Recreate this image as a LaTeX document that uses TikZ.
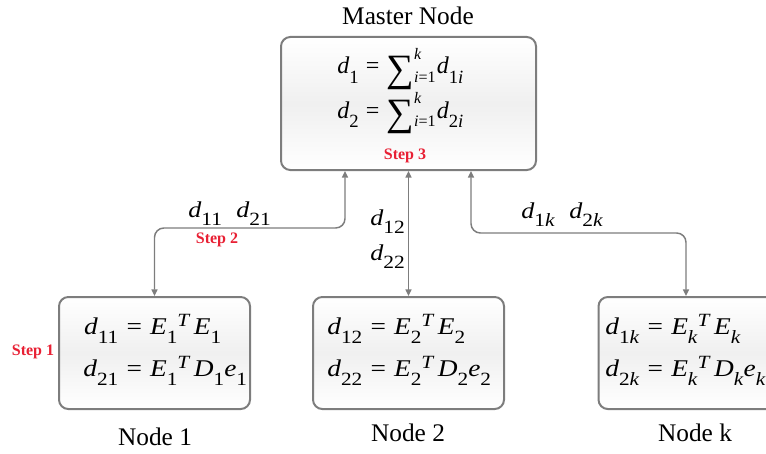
\documentclass[tikz,border=0pt]{standalone}
\usepackage{graphicx}
\usepackage{fontspec}
\setmainfont{Liberation Serif}
\usetikzlibrary{arrows.meta}
\definecolor{stepred}{RGB}{232,32,52}
\definecolor{edgegray}{RGB}{125,125,125}

% formula pieces set with the text font (italic letters, large scripts)
\newcommand\vv[1]{\textit{#1}}
\newcommand\lo[1]{\smash{\raisebox{-0.38em}{\fontsize{14}{14}\selectfont #1}}}
\newcommand\hi[1]{\smash{\raisebox{0.32em}{\fontsize{14}{14}\selectfont\itshape #1}}}
\newcommand\eqs{\hspace{0.3em}=\hspace{0.3em}}
\newcommand\sumlim[2]{\smash{\raisebox{-0.3em}{\fontsize{29}{29}\selectfont ∑}}%
  \rlap{\smash{\raisebox{0.62em}{\fontsize{12}{12}\selectfont\itshape #1}}}%
  \smash{\raisebox{-0.35em}{\fontsize{12}{12}\selectfont #2}}}
\newcommand\eqblock[4]{\scalebox{#4}[1]{\begin{tabular}[t]{@{}r@{}l@{}}#1\\[#3]#2\end{tabular}}}

\tikzset{
  box/.style={draw=edgegray, line width=1.5pt, rounded corners=7pt,
    top color=white, bottom color=white, middle color=gray!12,
    inner sep=0pt},
  link/.style={draw=edgegray, line width=1.1pt, rounded corners=7pt,
    {Triangle[length=5pt,width=4.5pt]}-{Triangle[length=5pt,width=4.5pt]}},
  caption/.style={font=\fontsize{19}{22}\selectfont, inner sep=0pt},
  steplabel/.style={font=\fontsize{12}{14}\selectfont\bfseries, text=stepred, inner sep=0pt},
  eqn/.style={font=\fontsize{18}{20}\selectfont, inner sep=0pt, anchor=base west},
  flow/.style={font=\fontsize{17}{20}\selectfont, inner sep=0pt, anchor=base west},
}
\begin{document}
\begin{tikzpicture}[x=0.75pt,y=-0.75pt]
\useasboundingbox (0,0) rectangle (766,453);
\clip (0,0) rectangle (766,453);

% boxes
\node[box, minimum width=191.25pt, minimum height=99.75pt] (master) at (408.5,103.5) {};
\node[box, minimum width=143.25pt, minimum height=84pt] (n1) at (154.5,353) {};
\node[box, minimum width=143.25pt, minimum height=84pt] (n2) at (408.5,353) {};
\node[box, minimum width=143.25pt, minimum height=84pt] (nk) at (694,353) {};

% titles
\node[caption] (tmaster) at (408,16) {Master Node};
\node[caption] (t1) at (155,437) {Node 1};
\node[caption] (t2) at (408,433) {Node 2};
\node[caption] (tk) at (695,433) {Node k};

% equations
\node[eqn] (emaster) at (337,74) {\eqblock
  {\vv{d}\lo{1} & \eqs\sumlim{k}{\vv{i}=1}\hspace{0.05em}\vv{d}\lo{1\vv{i}}}
  {\vv{d}\lo{2} & \eqs\sumlim{k}{\vv{i}=1}\hspace{0.05em}\vv{d}\lo{2\vv{i}}}{13pt}{1.0}};
\node[eqn] (e1) at (83,334) {\eqblock
  {\vv{d}\lo{11} & \eqs\vv{E}\lo{1}\hi{T}\,\vv{E}\lo{1}}
  {\vv{d}\lo{21} & \eqs\vv{E}\lo{1}\hi{T}\,\vv{D}\lo{1}\vv{e}\lo{1}}{12pt}{1.14}};
\node[eqn] (e2) at (327,334) {\eqblock
  {\vv{d}\lo{12} & \eqs\vv{E}\lo{2}\hi{T}\,\vv{E}\lo{2}}
  {\vv{d}\lo{22} & \eqs\vv{E}\lo{2}\hi{T}\,\vv{D}\lo{2}\vv{e}\lo{2}}{12pt}{1.14}};
\node[eqn] (ek) at (605,334) {\eqblock
  {\vv{d}\lo{1\vv{k}} & \eqs\vv{E}\lo{\vv{k}}\hi{T}\,\vv{E}\lo{\vv{k}}}
  {\vv{d}\lo{2\vv{k}} & \eqs\vv{E}\lo{\vv{k}}\hi{T}\,\vv{D}\lo{\vv{k}}\vv{e}\lo{\vv{k}}}{12pt}{1.14}};

% step markers
\node[steplabel] (s1) at (33,352) {Step 1};
\node[steplabel] (s2) at (217,240) {Step 2};
\node[steplabel] (s3) at (405,156) {Step 3};

% connectors
\coordinate (j1) at (345,228);
\coordinate (j2) at (408.5,228);
\coordinate (j3) at (471,233);
\coordinate (j4) at (686,233);
\draw[link] (master.south -| j1) -- (j1) -| (n1.north);
\draw[link] (master.south -| j2) -- (n2.north -| j2);
\draw[link] (master.south -| j3) -- (j3) -- (j4) -- (nk.north -| j4);

% exchanged values
\node[flow] (f1) at (188,217) {\scalebox{1.15}[1]{\vv{d}\lo{11}\hspace{0.55em}\vv{d}\lo{21}}};
\node[flow] (f2a) at (370,225) {\scalebox{1.15}[1]{\vv{d}\lo{12}}};
\node[flow] (f2b) at (370,260) {\scalebox{1.15}[1]{\vv{d}\lo{22}}};
\node[flow] (fk) at (521,218) {\scalebox{1.15}[1]{\vv{d}\lo{1\vv{k}}\hspace{0.55em}\vv{d}\lo{2\vv{k}}}};
\end{tikzpicture}
\end{document}
